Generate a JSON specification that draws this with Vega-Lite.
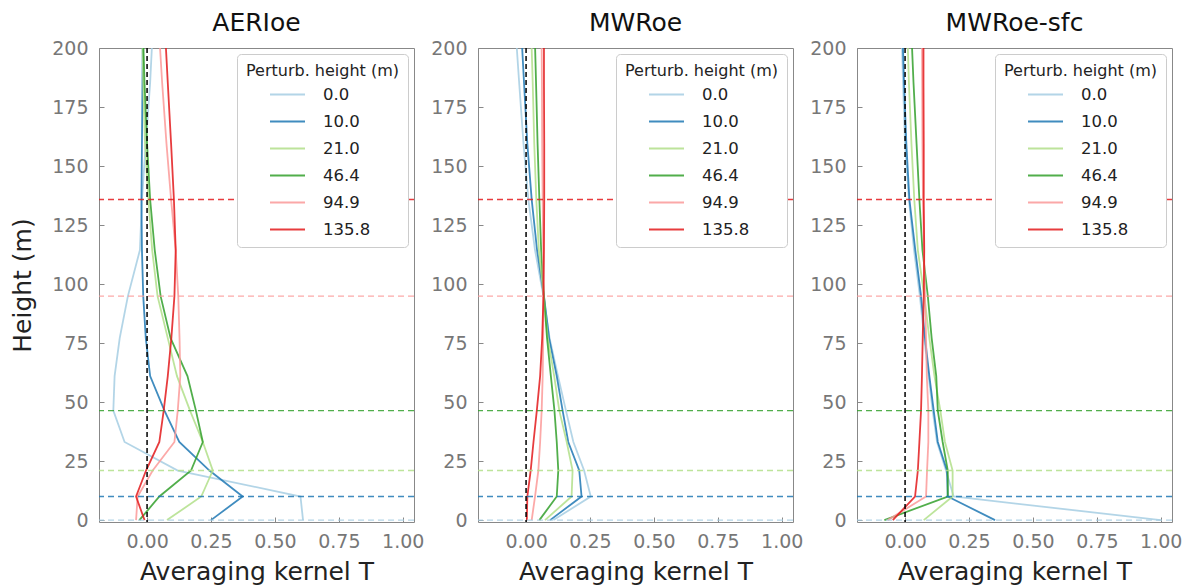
{
"$schema":"https://vega.github.io/schema/vega-lite/v6.json",
"padding":{"left":10,"top":10,"right":4,"bottom":0},
"spacing":5,
"config":{"font":"DejaVu Sans","view":{"stroke":"#888888","strokeWidth":1},
"axis":{"labelFontSize":19,"labelColor":"#777777","titleFontSize":25,"titleFontWeight":"normal","titleColor":"#222222","tickColor":"#888888","tickSize":-5,"labelPadding":16,"domain":false,"grid":false},
"title":{"fontSize":25,"fontWeight":"normal","color":"#111111","offset":3}},
"resolve":{"scale":{"color":"independent"},"legend":{"color":"independent"}},
"datasets":{
"ph":[{"p":"0.0","h":0},{"p":"10.0","h":10},{"p":"21.0","h":21},{"p":"46.4","h":46.4},{"p":"94.9","h":94.9},{"p":"135.8","h":135.8}],
"k":[
{"s":"A","p":"0.0","h":0,"v":0.61},{"s":"A","p":"0.0","h":10,"v":0.60},{"s":"A","p":"0.0","h":21,"v":0.12},{"s":"A","p":"0.0","h":33.1,"v":-0.088},{"s":"A","p":"0.0","h":46.4,"v":-0.132},{"s":"A","p":"0.0","h":61,"v":-0.127},{"s":"A","p":"0.0","h":77.1,"v":-0.107},{"s":"A","p":"0.0","h":94.9,"v":-0.075},{"s":"A","p":"0.0","h":114.4,"v":-0.028},{"s":"A","p":"0.0","h":135.8,"v":-0.02},{"s":"A","p":"0.0","h":159.4,"v":-0.005},{"s":"A","p":"0.0","h":185.3,"v":0.012},{"s":"A","p":"0.0","h":213.8,"v":0.025},
{"s":"A","p":"10.0","h":0,"v":0.25},{"s":"A","p":"10.0","h":10,"v":0.374},{"s":"A","p":"10.0","h":21,"v":0.244},{"s":"A","p":"10.0","h":33.1,"v":0.126},{"s":"A","p":"10.0","h":46.4,"v":0.068},{"s":"A","p":"10.0","h":61,"v":0.012},{"s":"A","p":"10.0","h":77.1,"v":-0.005},{"s":"A","p":"10.0","h":94.9,"v":-0.015},{"s":"A","p":"10.0","h":114.4,"v":-0.02},{"s":"A","p":"10.0","h":135.8,"v":-0.022},{"s":"A","p":"10.0","h":159.4,"v":-0.02},{"s":"A","p":"10.0","h":185.3,"v":-0.018},{"s":"A","p":"10.0","h":213.8,"v":-0.016},
{"s":"A","p":"21.0","h":0,"v":0.078},{"s":"A","p":"21.0","h":10,"v":0.212},{"s":"A","p":"21.0","h":21,"v":0.257},{"s":"A","p":"21.0","h":33.1,"v":0.218},{"s":"A","p":"21.0","h":46.4,"v":0.168},{"s":"A","p":"21.0","h":61,"v":0.117},{"s":"A","p":"21.0","h":77.1,"v":0.081},{"s":"A","p":"21.0","h":94.9,"v":0.041},{"s":"A","p":"21.0","h":114.4,"v":0.02},{"s":"A","p":"21.0","h":135.8,"v":0.005},{"s":"A","p":"21.0","h":159.4,"v":-0.008},{"s":"A","p":"21.0","h":185.3,"v":-0.015},{"s":"A","p":"21.0","h":213.8,"v":-0.02},
{"s":"A","p":"46.4","h":0,"v":-0.03},{"s":"A","p":"46.4","h":10,"v":0.048},{"s":"A","p":"46.4","h":21,"v":0.172},{"s":"A","p":"46.4","h":33.1,"v":0.218},{"s":"A","p":"46.4","h":46.4,"v":0.191},{"s":"A","p":"46.4","h":61,"v":0.158},{"s":"A","p":"46.4","h":77.1,"v":0.092},{"s":"A","p":"46.4","h":94.9,"v":0.053},{"s":"A","p":"46.4","h":114.4,"v":0.03},{"s":"A","p":"46.4","h":135.8,"v":0.012},{"s":"A","p":"46.4","h":159.4,"v":0.0},{"s":"A","p":"46.4","h":185.3,"v":-0.01},{"s":"A","p":"46.4","h":213.8,"v":-0.018},
{"s":"A","p":"94.9","h":0,"v":-0.043},{"s":"A","p":"94.9","h":10,"v":-0.037},{"s":"A","p":"94.9","h":21,"v":0.022},{"s":"A","p":"94.9","h":33.1,"v":0.107},{"s":"A","p":"94.9","h":46.4,"v":0.12},{"s":"A","p":"94.9","h":61,"v":0.13},{"s":"A","p":"94.9","h":77.1,"v":0.127},{"s":"A","p":"94.9","h":94.9,"v":0.122},{"s":"A","p":"94.9","h":114.4,"v":0.112},{"s":"A","p":"94.9","h":135.8,"v":0.094},{"s":"A","p":"94.9","h":159.4,"v":0.076},{"s":"A","p":"94.9","h":185.3,"v":0.059},{"s":"A","p":"94.9","h":213.8,"v":0.043},
{"s":"A","p":"135.8","h":0,"v":-0.01},{"s":"A","p":"135.8","h":10,"v":-0.043},{"s":"A","p":"135.8","h":21,"v":-0.004},{"s":"A","p":"135.8","h":33.1,"v":0.048},{"s":"A","p":"135.8","h":46.4,"v":0.065},{"s":"A","p":"135.8","h":61,"v":0.081},{"s":"A","p":"135.8","h":77.1,"v":0.095},{"s":"A","p":"135.8","h":94.9,"v":0.107},{"s":"A","p":"135.8","h":114.4,"v":0.112},{"s":"A","p":"135.8","h":135.8,"v":0.105},{"s":"A","p":"135.8","h":159.4,"v":0.094},{"s":"A","p":"135.8","h":185.3,"v":0.081},{"s":"A","p":"135.8","h":213.8,"v":0.067},
{"s":"M","p":"0.0","h":0,"v":0.107},{"s":"M","p":"0.0","h":10,"v":0.253},{"s":"M","p":"0.0","h":21,"v":0.227},{"s":"M","p":"0.0","h":33.1,"v":0.185},{"s":"M","p":"0.0","h":46.4,"v":0.156},{"s":"M","p":"0.0","h":61,"v":0.125},{"s":"M","p":"0.0","h":77.1,"v":0.092},{"s":"M","p":"0.0","h":94.9,"v":0.068},{"s":"M","p":"0.0","h":114.4,"v":0.035},{"s":"M","p":"0.0","h":135.8,"v":0.009},{"s":"M","p":"0.0","h":159.4,"v":-0.01},{"s":"M","p":"0.0","h":185.3,"v":-0.027},{"s":"M","p":"0.0","h":213.8,"v":-0.045},
{"s":"M","p":"10.0","h":0,"v":0.094},{"s":"M","p":"10.0","h":10,"v":0.217},{"s":"M","p":"10.0","h":21,"v":0.208},{"s":"M","p":"10.0","h":33.1,"v":0.165},{"s":"M","p":"10.0","h":46.4,"v":0.143},{"s":"M","p":"10.0","h":61,"v":0.12},{"s":"M","p":"10.0","h":77.1,"v":0.09},{"s":"M","p":"10.0","h":94.9,"v":0.07},{"s":"M","p":"10.0","h":114.4,"v":0.043},{"s":"M","p":"10.0","h":135.8,"v":0.022},{"s":"M","p":"10.0","h":159.4,"v":0.005},{"s":"M","p":"10.0","h":185.3,"v":-0.008},{"s":"M","p":"10.0","h":213.8,"v":-0.022},
{"s":"M","p":"21.0","h":0,"v":0.074},{"s":"M","p":"21.0","h":10,"v":0.178},{"s":"M","p":"21.0","h":21,"v":0.182},{"s":"M","p":"21.0","h":33.1,"v":0.159},{"s":"M","p":"21.0","h":46.4,"v":0.13},{"s":"M","p":"21.0","h":61,"v":0.11},{"s":"M","p":"21.0","h":77.1,"v":0.085},{"s":"M","p":"21.0","h":94.9,"v":0.069},{"s":"M","p":"21.0","h":114.4,"v":0.05},{"s":"M","p":"21.0","h":135.8,"v":0.04},{"s":"M","p":"21.0","h":159.4,"v":0.032},{"s":"M","p":"21.0","h":185.3,"v":0.026},{"s":"M","p":"21.0","h":213.8,"v":0.018},
{"s":"M","p":"46.4","h":0,"v":0.052},{"s":"M","p":"46.4","h":10,"v":0.12},{"s":"M","p":"46.4","h":21,"v":0.126},{"s":"M","p":"46.4","h":33.1,"v":0.12},{"s":"M","p":"46.4","h":46.4,"v":0.111},{"s":"M","p":"46.4","h":61,"v":0.097},{"s":"M","p":"46.4","h":77.1,"v":0.082},{"s":"M","p":"46.4","h":94.9,"v":0.07},{"s":"M","p":"46.4","h":114.4,"v":0.059},{"s":"M","p":"46.4","h":135.8,"v":0.052},{"s":"M","p":"46.4","h":159.4,"v":0.045},{"s":"M","p":"46.4","h":185.3,"v":0.039},{"s":"M","p":"46.4","h":213.8,"v":0.032},
{"s":"M","p":"94.9","h":0,"v":0.022},{"s":"M","p":"94.9","h":10,"v":0.035},{"s":"M","p":"94.9","h":21,"v":0.048},{"s":"M","p":"94.9","h":33.1,"v":0.055},{"s":"M","p":"94.9","h":46.4,"v":0.061},{"s":"M","p":"94.9","h":61,"v":0.065},{"s":"M","p":"94.9","h":77.1,"v":0.067},{"s":"M","p":"94.9","h":94.9,"v":0.068},{"s":"M","p":"94.9","h":114.4,"v":0.067},{"s":"M","p":"94.9","h":135.8,"v":0.065},{"s":"M","p":"94.9","h":159.4,"v":0.063},{"s":"M","p":"94.9","h":185.3,"v":0.062},{"s":"M","p":"94.9","h":213.8,"v":0.06},
{"s":"M","p":"135.8","h":0,"v":0.003},{"s":"M","p":"135.8","h":10,"v":0.005},{"s":"M","p":"135.8","h":21,"v":0.018},{"s":"M","p":"135.8","h":33.1,"v":0.029},{"s":"M","p":"135.8","h":46.4,"v":0.042},{"s":"M","p":"135.8","h":61,"v":0.055},{"s":"M","p":"135.8","h":77.1,"v":0.063},{"s":"M","p":"135.8","h":94.9,"v":0.068},{"s":"M","p":"135.8","h":114.4,"v":0.07},{"s":"M","p":"135.8","h":135.8,"v":0.071},{"s":"M","p":"135.8","h":159.4,"v":0.071},{"s":"M","p":"135.8","h":185.3,"v":0.07},{"s":"M","p":"135.8","h":213.8,"v":0.07},
{"s":"S","p":"0.0","h":0,"v":1.0},{"s":"S","p":"0.0","h":10,"v":0.19},{"s":"S","p":"0.0","h":21,"v":0.16},{"s":"S","p":"0.0","h":33.1,"v":0.125},{"s":"S","p":"0.0","h":46.4,"v":0.108},{"s":"S","p":"0.0","h":61,"v":0.092},{"s":"S","p":"0.0","h":77.1,"v":0.075},{"s":"S","p":"0.0","h":94.9,"v":0.058},{"s":"S","p":"0.0","h":114.4,"v":0.035},{"s":"S","p":"0.0","h":135.8,"v":0.015},{"s":"S","p":"0.0","h":159.4,"v":0.0},{"s":"S","p":"0.0","h":185.3,"v":-0.008},{"s":"S","p":"0.0","h":213.8,"v":-0.015},
{"s":"S","p":"10.0","h":0,"v":0.352},{"s":"S","p":"10.0","h":10,"v":0.167},{"s":"S","p":"10.0","h":21,"v":0.164},{"s":"S","p":"10.0","h":33.1,"v":0.128},{"s":"S","p":"10.0","h":46.4,"v":0.112},{"s":"S","p":"10.0","h":61,"v":0.095},{"s":"S","p":"10.0","h":77.1,"v":0.078},{"s":"S","p":"10.0","h":94.9,"v":0.0625},{"s":"S","p":"10.0","h":114.4,"v":0.04},{"s":"S","p":"10.0","h":135.8,"v":0.017},{"s":"S","p":"10.0","h":159.4,"v":0.005},{"s":"S","p":"10.0","h":185.3,"v":-0.004},{"s":"S","p":"10.0","h":213.8,"v":-0.012},
{"s":"S","p":"21.0","h":0,"v":0.073},{"s":"S","p":"21.0","h":10,"v":0.186},{"s":"S","p":"21.0","h":21,"v":0.186},{"s":"S","p":"21.0","h":33.1,"v":0.156},{"s":"S","p":"21.0","h":46.4,"v":0.138},{"s":"S","p":"21.0","h":61,"v":0.115},{"s":"S","p":"21.0","h":77.1,"v":0.095},{"s":"S","p":"21.0","h":94.9,"v":0.075},{"s":"S","p":"21.0","h":114.4,"v":0.05},{"s":"S","p":"21.0","h":135.8,"v":0.036},{"s":"S","p":"21.0","h":159.4,"v":0.025},{"s":"S","p":"21.0","h":185.3,"v":0.015},{"s":"S","p":"21.0","h":213.8,"v":0.007},
{"s":"S","p":"46.4","h":0,"v":-0.081},{"s":"S","p":"46.4","h":10,"v":0.167},{"s":"S","p":"46.4","h":21,"v":0.167},{"s":"S","p":"46.4","h":33.1,"v":0.147},{"s":"S","p":"46.4","h":46.4,"v":0.128},{"s":"S","p":"46.4","h":61,"v":0.122},{"s":"S","p":"46.4","h":77.1,"v":0.104},{"s":"S","p":"46.4","h":94.9,"v":0.089},{"s":"S","p":"46.4","h":114.4,"v":0.068},{"s":"S","p":"46.4","h":135.8,"v":0.056},{"s":"S","p":"46.4","h":159.4,"v":0.045},{"s":"S","p":"46.4","h":185.3,"v":0.033},{"s":"S","p":"46.4","h":213.8,"v":0.022},
{"s":"S","p":"94.9","h":0,"v":-0.068},{"s":"S","p":"94.9","h":10,"v":0.082},{"s":"S","p":"94.9","h":21,"v":0.086},{"s":"S","p":"94.9","h":33.1,"v":0.091},{"s":"S","p":"94.9","h":46.4,"v":0.091},{"s":"S","p":"94.9","h":61,"v":0.085},{"s":"S","p":"94.9","h":77.1,"v":0.082},{"s":"S","p":"94.9","h":94.9,"v":0.078},{"s":"S","p":"94.9","h":114.4,"v":0.074},{"s":"S","p":"94.9","h":135.8,"v":0.07},{"s":"S","p":"94.9","h":159.4,"v":0.068},{"s":"S","p":"94.9","h":185.3,"v":0.067},{"s":"S","p":"94.9","h":213.8,"v":0.066},
{"s":"S","p":"135.8","h":0,"v":-0.048},{"s":"S","p":"135.8","h":10,"v":0.039},{"s":"S","p":"135.8","h":21,"v":0.05},{"s":"S","p":"135.8","h":33.1,"v":0.056},{"s":"S","p":"135.8","h":46.4,"v":0.0625},{"s":"S","p":"135.8","h":61,"v":0.066},{"s":"S","p":"135.8","h":77.1,"v":0.069},{"s":"S","p":"135.8","h":94.9,"v":0.073},{"s":"S","p":"135.8","h":114.4,"v":0.075},{"s":"S","p":"135.8","h":135.8,"v":0.073},{"s":"S","p":"135.8","h":159.4,"v":0.073},{"s":"S","p":"135.8","h":185.3,"v":0.072},{"s":"S","p":"135.8","h":213.8,"v":0.072}
]},
"hconcat":[
{"width":315,"height":474,"title":"AERIoe","layer":[
{"data":{"name":"k"},"transform":[{"filter":"datum.s==='A'"}],"mark":{"type":"line","clip":true,"strokeWidth":1.8,"opacity":0.85},
"encoding":{"x":{"field":"v","type":"quantitative","scale":{"domain":[-0.188,1.044],"nice":false,"zero":false},"axis":{"title":"Averaging kernel T","values":[0,0.25,0.5,0.75,1],"format":".2f","labelPadding":15,"titlePadding":8}},
"y":{"field":"h","type":"quantitative","scale":{"domain":[-0.8,200],"nice":false,"zero":false},"axis":{"title":"Height (m)","values":[0,25,50,75,100,125,150,175,200],"titlePadding":16}},
"color":{"field":"p","type":"nominal","scale":{"domain":["0.0","10.0","21.0","46.4","94.9","135.8"],"range":["#a6cee3","#1f78b4","#b2df8a","#33a02c","#fb9a99","#e31a1c"]},
"legend":{"title":"Perturb. height (m)","orient":"top-right","offset":6,"padding":9,"fillColor":"white","strokeColor":"#cccccc","cornerRadius":4,"titleFontSize":16,"titleFontWeight":"normal","titleColor":"#222222","labelFontSize":16.5,"labelColor":"#222222","symbolType":"stroke","symbolSize":1225,"symbolStrokeWidth":2,"symbolOffset":23,"labelOffset":17,"rowPadding":-10.5,"titlePadding":-3}},
"order":{"field":"h","type":"quantitative"}}},
{"data":{"name":"ph"},"mark":{"type":"rule","strokeDash":[6,4],"strokeWidth":1.4,"opacity":0.85},"encoding":{"y":{"field":"h","type":"quantitative"},"color":{"field":"p","type":"nominal"}}},
{"data":{"values":[{}]},"mark":{"type":"rule","color":"black","strokeDash":[5,3],"strokeWidth":1.5},"encoding":{"x":{"datum":0}}}
]},
{"width":315,"height":474,"title":"MWRoe","layer":[
{"data":{"name":"k"},"transform":[{"filter":"datum.s==='M'"}],"mark":{"type":"line","clip":true,"strokeWidth":1.8,"opacity":0.85},
"encoding":{"x":{"field":"v","type":"quantitative","scale":{"domain":[-0.188,1.044],"nice":false,"zero":false},"axis":{"title":"Averaging kernel T","values":[0,0.25,0.5,0.75,1],"format":".2f","labelPadding":15,"titlePadding":8}},
"y":{"field":"h","type":"quantitative","scale":{"domain":[-0.8,200],"nice":false,"zero":false},"axis":{"title":null,"values":[0,25,50,75,100,125,150,175,200]}},
"color":{"field":"p","type":"nominal","scale":{"domain":["0.0","10.0","21.0","46.4","94.9","135.8"],"range":["#a6cee3","#1f78b4","#b2df8a","#33a02c","#fb9a99","#e31a1c"]},
"legend":{"title":"Perturb. height (m)","orient":"top-right","offset":6,"padding":9,"fillColor":"white","strokeColor":"#cccccc","cornerRadius":4,"titleFontSize":16,"titleFontWeight":"normal","titleColor":"#222222","labelFontSize":16.5,"labelColor":"#222222","symbolType":"stroke","symbolSize":1225,"symbolStrokeWidth":2,"symbolOffset":23,"labelOffset":17,"rowPadding":-10.5,"titlePadding":-3}},
"order":{"field":"h","type":"quantitative"}}},
{"data":{"name":"ph"},"mark":{"type":"rule","strokeDash":[6,4],"strokeWidth":1.4,"opacity":0.85},"encoding":{"y":{"field":"h","type":"quantitative"},"color":{"field":"p","type":"nominal"}}},
{"data":{"values":[{}]},"mark":{"type":"rule","color":"black","strokeDash":[5,3],"strokeWidth":1.5},"encoding":{"x":{"datum":0}}}
]},
{"width":315,"height":474,"title":"MWRoe-sfc","layer":[
{"data":{"name":"k"},"transform":[{"filter":"datum.s==='S'"}],"mark":{"type":"line","clip":true,"strokeWidth":1.8,"opacity":0.85},
"encoding":{"x":{"field":"v","type":"quantitative","scale":{"domain":[-0.188,1.044],"nice":false,"zero":false},"axis":{"title":"Averaging kernel T","values":[0,0.25,0.5,0.75,1],"format":".2f","labelPadding":15,"titlePadding":8}},
"y":{"field":"h","type":"quantitative","scale":{"domain":[-0.8,200],"nice":false,"zero":false},"axis":{"title":null,"values":[0,25,50,75,100,125,150,175,200]}},
"color":{"field":"p","type":"nominal","scale":{"domain":["0.0","10.0","21.0","46.4","94.9","135.8"],"range":["#a6cee3","#1f78b4","#b2df8a","#33a02c","#fb9a99","#e31a1c"]},
"legend":{"title":"Perturb. height (m)","orient":"top-right","offset":6,"padding":9,"fillColor":"white","strokeColor":"#cccccc","cornerRadius":4,"titleFontSize":16,"titleFontWeight":"normal","titleColor":"#222222","labelFontSize":16.5,"labelColor":"#222222","symbolType":"stroke","symbolSize":1225,"symbolStrokeWidth":2,"symbolOffset":23,"labelOffset":17,"rowPadding":-10.5,"titlePadding":-3}},
"order":{"field":"h","type":"quantitative"}}},
{"data":{"name":"ph"},"mark":{"type":"rule","strokeDash":[6,4],"strokeWidth":1.4,"opacity":0.85},"encoding":{"y":{"field":"h","type":"quantitative"},"color":{"field":"p","type":"nominal"}}},
{"data":{"values":[{}]},"mark":{"type":"rule","color":"black","strokeDash":[5,3],"strokeWidth":1.5},"encoding":{"x":{"datum":0}}}
]}
]
}
